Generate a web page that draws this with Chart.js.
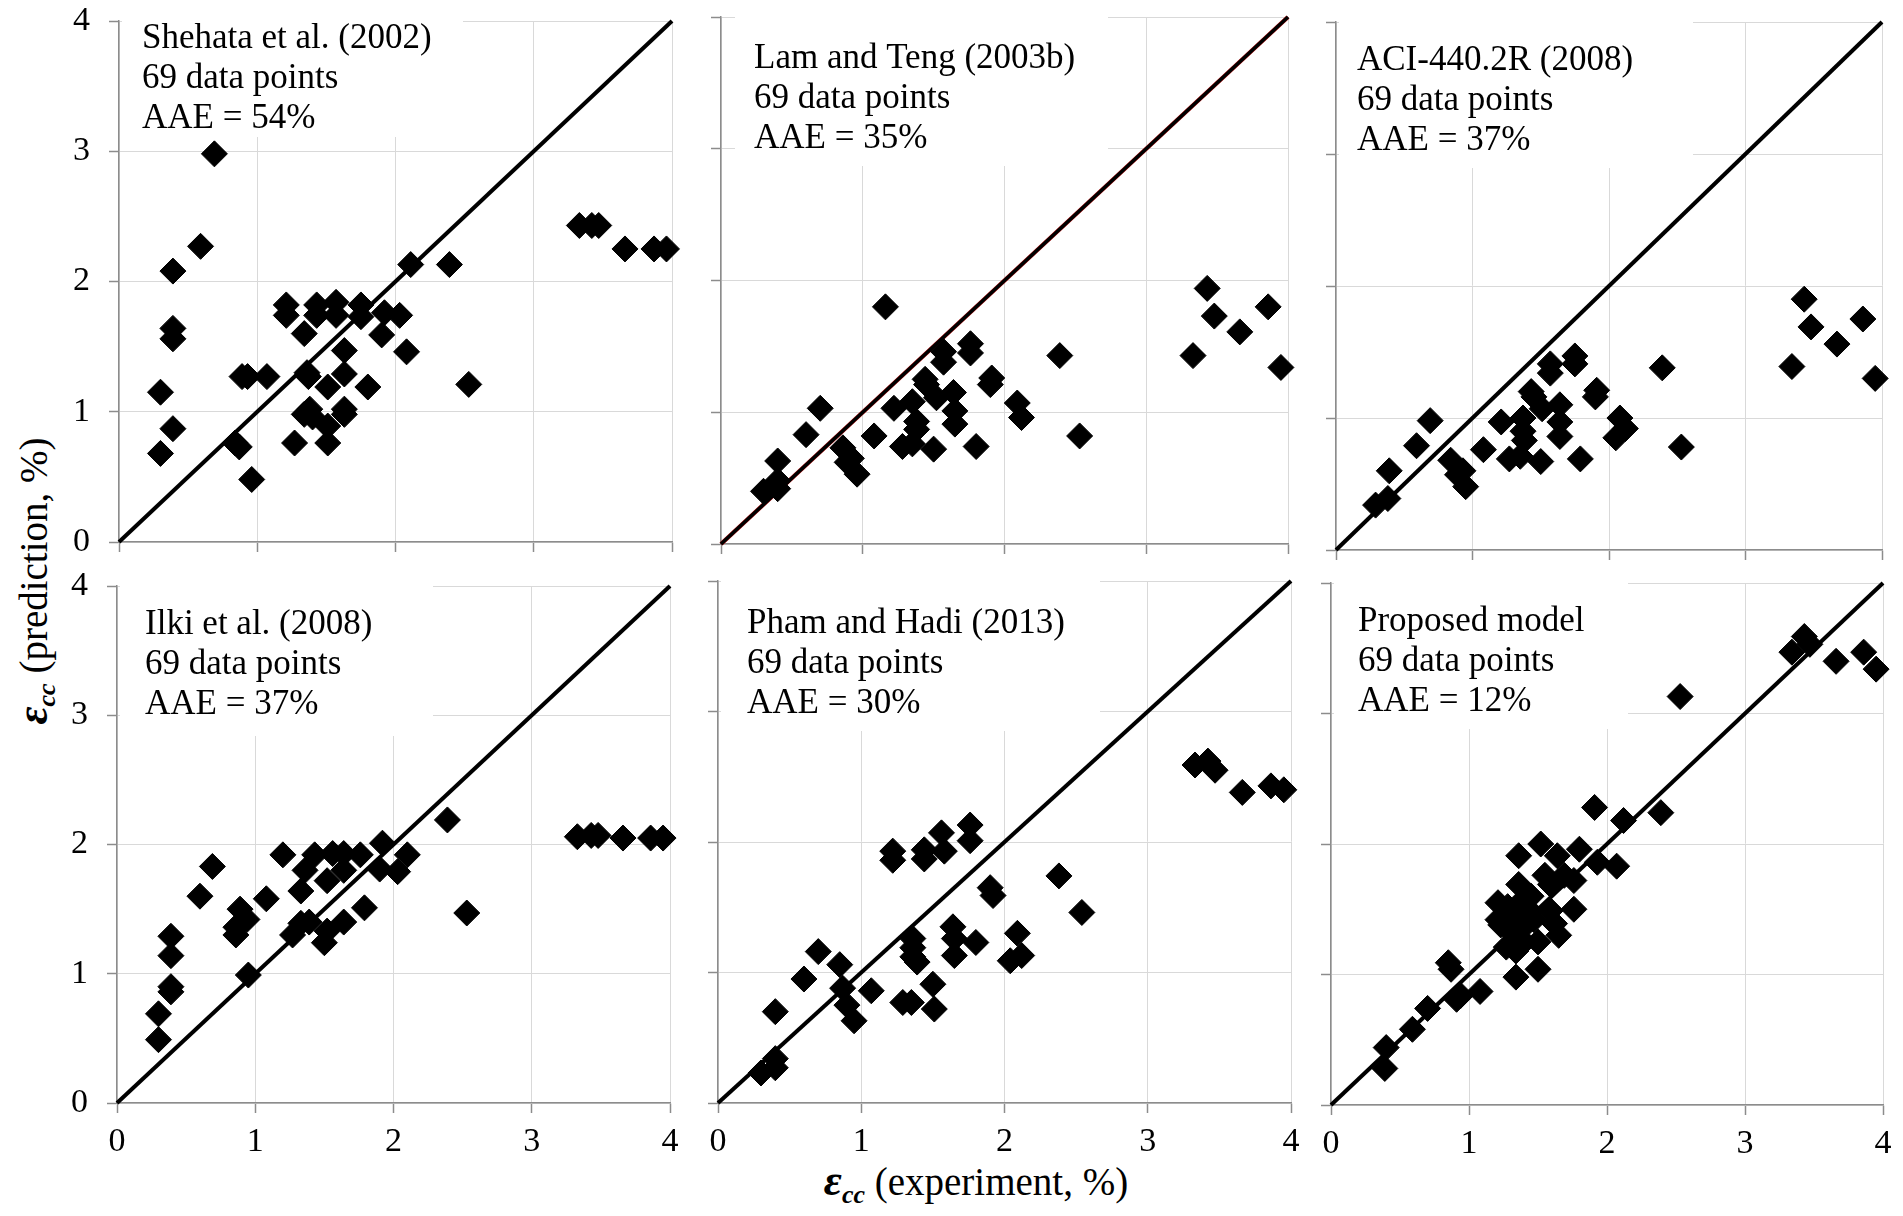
<!DOCTYPE html>
<html>
<head>
<meta charset="utf-8">
<script src="https://cdn.jsdelivr.net/npm/chart.js@4.4.1/dist/chart.umd.min.js"></script>
<style>
  html, body { margin: 0; padding: 0; background: #fff; }
  body { width: 1903px; height: 1216px; position: relative; overflow: hidden; font-family: "Liberation Serif", "Times New Roman", serif; }
  canvas { position: absolute; }
  .axtitle { position: absolute; font-size: 39px; line-height: 39px; white-space: nowrap; color: #000; }
  .eps { font-weight: bold; font-style: italic; font-size: 44px; }
  .sub { font-weight: bold; font-style: italic; font-size: 26px; position: relative; top: 8px; }
</style>
</head>
<body>
<div class="axtitle" id="xtitle"><span class="eps">ε</span><span class="sub">cc</span> (experiment, %)</div>
<div class="axtitle" id="ytitle"><span class="eps">ε</span><span class="sub">cc</span> (prediction, %)</div>
<script>
// model names and errors shown in each panel
var modelNames = ['Shehata et al. (2002)', 'Lam and Teng (2003b)', 'ACI-440.2R (2008)',
                  'Ilki et al. (2008)', 'Pham and Hadi (2013)', 'Proposed model'];
var aae = [54, 35, 37, 37, 30, 12];
var dataCount = 69;
var axisTicks = [0, 1, 2, 3, 4];

// [experiment, prediction] strain in %
var shehata = [[0.30,0.68],[0.30,1.15],[0.39,0.87],[0.39,1.56],[0.39,1.64],[0.39,2.08],[0.59,2.27],[0.69,2.98],
  [0.84,0.76],[0.87,0.73],[0.89,1.27],[0.93,1.27],[0.96,0.48],[1.07,1.27],[1.21,1.82],[1.21,1.74],[1.27,0.76],
  [1.34,1.60],[1.34,0.98],[1.36,1.30],[1.37,1.27],[1.38,1.02],[1.40,0.96],[1.43,1.82],[1.43,1.74],[1.51,1.19],
  [1.51,0.89],[1.51,0.76],[1.57,1.84],[1.57,1.74],[1.63,1.47],[1.63,1.29],[1.63,1.02],[1.63,0.98],[1.75,1.82],
  [1.75,1.73],[1.80,1.19],[1.90,1.59],[1.92,1.76],[2.03,1.74],[2.08,1.46],[2.11,2.13],[2.39,2.13],[2.53,1.21],
  [3.33,2.43],[3.42,2.43],[3.47,2.43],[3.66,2.25],[3.87,2.25],[3.96,2.25]];
var lamTeng = [[0.30,0.40],[0.40,0.63],[0.40,0.48],[0.40,0.42],[0.60,0.83],[0.70,1.03],[0.86,0.73],[0.89,0.62],
  [0.92,0.65],[0.96,0.53],[1.08,0.82],[1.16,1.80],[1.22,1.03],[1.28,0.74],[1.35,1.08],[1.35,0.76],[1.38,0.93],
  [1.38,0.87],[1.44,1.25],[1.45,1.21],[1.50,0.72],[1.52,1.11],[1.57,1.46],[1.57,1.38],[1.64,1.15],[1.65,1.01],
  [1.65,0.91],[1.76,1.52],[1.76,1.45],[1.80,0.74],[1.90,1.21],[1.91,1.26],[2.09,1.07],[2.12,0.96],[2.39,1.43],
  [2.53,0.82],[3.33,1.43],[3.43,1.94],[3.48,1.73],[3.66,1.61],[3.86,1.80],[3.95,1.34]];
var aci = [[0.29,0.34],[0.38,0.39],[0.39,0.60],[0.59,0.79],[0.69,0.98],[0.84,0.68],[0.89,0.57],[0.93,0.60],
  [0.95,0.48],[1.08,0.76],[1.21,0.97],[1.27,0.69],[1.35,0.71],[1.37,1.00],[1.37,0.90],[1.38,0.83],[1.43,1.20],
  [1.45,1.16],[1.51,1.07],[1.50,0.67],[1.57,1.41],[1.57,1.34],[1.64,1.10],[1.64,0.97],[1.64,0.86],[1.75,1.47],
  [1.75,1.41],[1.79,0.69],[1.90,1.16],[1.91,1.21],[2.08,1.00],[2.05,0.85],[2.12,0.92],[2.39,1.38],[2.53,0.78],
  [3.34,1.39],[3.43,1.90],[3.48,1.69],[3.67,1.56],[3.86,1.75],[3.95,1.30]];
var ilki = [[0.30,0.49],[0.30,0.69],[0.39,0.90],[0.39,0.86],[0.39,1.14],[0.39,1.29],[0.60,1.60],[0.69,1.83],
  [0.86,1.30],[0.86,1.36],[0.89,1.50],[0.94,1.42],[0.95,0.99],[1.08,1.58],[1.20,1.92],[1.27,1.30],[1.33,1.64],
  [1.36,1.80],[1.33,1.39],[1.39,1.40],[1.43,1.92],[1.50,1.24],[1.52,1.33],[1.52,1.72],[1.56,1.93],[1.64,1.93],
  [1.64,1.80],[1.64,1.40],[1.76,1.92],[1.79,1.51],[1.90,1.81],[1.92,2.01],[2.03,1.79],[2.10,1.92],[2.39,2.19],
  [2.53,1.47],[3.33,2.06],[3.43,2.07],[3.48,2.07],[3.66,2.05],[3.86,2.05],[3.95,2.05]];
var pham = [[0.30,0.23],[0.40,0.27],[0.40,0.34],[0.40,0.70],[0.60,0.95],[0.70,1.16],[0.85,1.06],[0.87,0.88],
  [0.90,0.75],[0.95,0.63],[1.07,0.86],[1.22,1.93],[1.22,1.86],[1.29,0.77],[1.35,0.77],[1.36,1.26],[1.36,1.19],
  [1.36,1.12],[1.39,1.08],[1.44,1.94],[1.44,1.87],[1.50,0.91],[1.51,0.72],[1.56,2.07],[1.58,1.93],[1.64,1.35],
  [1.65,1.26],[1.65,1.13],[1.76,2.13],[1.76,2.01],[1.80,1.23],[1.90,1.65],[1.92,1.59],[2.09,1.30],[2.04,1.09],
  [2.12,1.13],[2.38,1.74],[2.54,1.46],[3.33,2.59],[3.42,2.62],[3.47,2.55],[3.66,2.38],[3.86,2.43],[3.95,2.40]];
var proposed = [[0.39,0.28],[0.40,0.44],[0.59,0.58],[0.70,0.74],[0.85,1.09],[0.87,1.04],[0.91,0.81],[0.94,0.84],
  [1.08,0.87],[1.21,1.55],[1.21,1.42],[1.23,1.38],[1.27,1.21],[1.34,1.18],[1.34,0.98],[1.36,1.91],[1.36,1.69],
  [1.37,1.55],[1.39,1.43],[1.41,1.38],[1.44,1.49],[1.50,1.25],[1.50,1.04],[1.52,2.00],[1.55,1.76],[1.59,1.69],
  [1.59,1.49],[1.62,1.39],[1.65,1.30],[1.64,1.91],[1.69,1.76],[1.76,1.72],[1.76,1.50],[1.80,1.96],[1.91,2.28],
  [1.93,1.86],[2.07,1.83],[2.12,2.18],[2.39,2.24],[2.53,3.13],[3.34,3.47],[3.43,3.59],[3.47,3.53],[3.66,3.40],
  [3.86,3.47],[3.95,3.34],[1.30,1.45],[1.28,1.52],[1.45,1.60],[1.33,1.30],[1.47,1.42],[1.40,1.25]];

var series = [shehata, lamTeng, aci, ilki, pham, proposed];

// plot area of every panel on the page, and where its note sits
var panels = [
  {L:119,  T:21,  R:672,  B:542,  tx:23, ty:27, boxL:3,  boxR:344, boxB:116, xLab:false, yLab:true},
  {L:721,  T:17,  R:1288, B:544,  tx:33, ty:51, boxL:14, boxR:387, boxB:149, xLab:false, yLab:false, red:true},
  {L:1336, T:22,  R:1882, B:550,  tx:21, ty:48, boxL:3,  boxR:357, boxB:146, xLab:false, yLab:false},
  {L:117,  T:586, R:670,  B:1103, tx:28, ty:48, boxL:3,  boxR:316, boxB:150, xLab:true,  yLab:true},
  {L:718,  T:581, R:1291, B:1103, tx:29, ty:52, boxL:3,  boxR:382, boxB:150, xLab:true,  yLab:false},
  {L:1331, T:583, R:1883, B:1105, tx:27, ty:48, boxL:3,  boxR:297, boxB:146, xLab:true,  yLab:false}
];

var FONT = '"Liberation Serif", "Times New Roman", serif';
var PAD_T = 50, PAD_R = 30, AX_W = 70, AX_H = 70;

function axis(showLabels, isX){
  return {
    type: 'linear', min: 0, max: 4,
    afterBuildTicks: function(s){ s.ticks = axisTicks.map(function(v){ return {value: v}; }); },
    afterFit: function(s){ if (isX) s.height = AX_H; else s.width = AX_W; },
    ticks: {
      callback: function(v){ return showLabels ? String(v) : ''; },
      font: {family: FONT, size: 34}, color: '#000',
      padding: isX ? 9 : 19, maxRotation: 0, autoSkip: false
    },
    grid: {color: '#d9d9d9', lineWidth: 1, tickColor: '#8c8c8c', tickLength: 10, tickWidth: 1.5},
    border: {color: '#8c8c8c', width: 1.5}
  };
}

var notePlugin = {
  id: 'note',
  beforeDatasetsDraw: function(chart){
    var p = chart.options.plugins.note, a = chart.chartArea, ctx = chart.ctx;
    ctx.save();
    ctx.fillStyle = '#fff';
    ctx.fillRect(a.left + p.boxL, a.top - 2, p.boxR - p.boxL, p.boxB + 2);
    ctx.fillStyle = '#000';
    ctx.font = '35px ' + FONT;
    ctx.textBaseline = 'alphabetic';
    p.lines.forEach(function(t, i){ ctx.fillText(t, a.left + p.tx, a.top + p.ty + i * 40); });
    ctx.restore();
  }
};

panels.forEach(function(p, i){
  var cv = document.createElement('canvas');
  var w = p.R - p.L + AX_W + PAD_R, h = p.B - p.T + PAD_T + AX_H;
  cv.width = w; cv.height = h;
  cv.style.left = (p.L - AX_W) + 'px'; cv.style.top = (p.T - PAD_T) + 'px';
  cv.style.width = w + 'px'; cv.style.height = h + 'px';
  document.body.appendChild(cv);

  var sets = [{
    data: series[i].map(function(d){ return {x: d[0], y: d[1]}; }),
    pointStyle: 'rectRot', pointRadius: 13, pointHoverRadius: 13,
    backgroundColor: '#000', borderColor: '#000', borderWidth: 1, clip: false
  }, {
    data: [{x: 0, y: 0}, {x: 4, y: 4}], showLine: true, pointRadius: 0,
    borderColor: '#000', borderWidth: p.red ? 3.4 : 4, clip: false
  }];
  if (p.red) sets.push({
    data: [{x: 0, y: 0}, {x: 4, y: 4}], showLine: true, pointRadius: 0,
    borderColor: '#b01010', borderWidth: 4.4, clip: false
  });

  new Chart(cv, {
    type: 'scatter',
    data: {datasets: sets},
    options: {
      responsive: false, animation: false, devicePixelRatio: 1,
      layout: {padding: {top: PAD_T, right: PAD_R, left: 0, bottom: 0}},
      plugins: {
        legend: {display: false}, tooltip: {enabled: false},
        note: {lines: [modelNames[i], dataCount + ' data points', 'AAE = ' + aae[i] + '%'],
               tx: p.tx, ty: p.ty, boxL: p.boxL, boxR: p.boxR, boxB: p.boxB}
      },
      scales: {x: axis(p.xLab, true), y: axis(p.yLab, false)}
    },
    plugins: [notePlugin]
  });
});

var xt = document.getElementById('xtitle');
xt.style.left = '976px'; xt.style.top = '1161px'; xt.style.transform = 'translateX(-50%)';
var yt = document.getElementById('ytitle');
yt.style.left = '35px'; yt.style.top = '581px';
yt.style.transform = 'translate(-50%, -50%) rotate(-90deg)';
</script>
</body>
</html>
